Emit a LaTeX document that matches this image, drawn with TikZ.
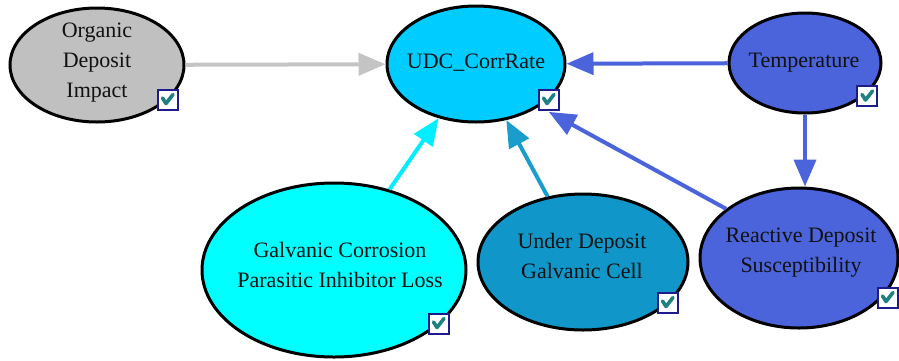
\documentclass[tikz,border=0pt]{standalone}
\usepackage{fontspec}
\setmainfont{Liberation Serif}
\usetikzlibrary{shapes.geometric,arrows.meta}
\definecolor{grayfill}{HTML}{C0C0C0}
\definecolor{udcfill}{HTML}{00CCFF}
\definecolor{royal}{HTML}{4B64DC}
\definecolor{cyanfill}{HTML}{00FFFF}
\definecolor{underfill}{HTML}{1096C8}
\definecolor{edgegray}{HTML}{C4C4C4}
\definecolor{edgecyan}{HTML}{00EEFF}
\definecolor{edgeteal}{HTML}{1A9CCC}
\definecolor{chkborder}{HTML}{1C1C8C}
\definecolor{chkmark}{HTML}{1E8080}
\definecolor{txtcol}{HTML}{111111}
\tikzset{
  bnode/.style={ellipse, draw=black, line width=3pt, inner sep=0pt},
  lbl/.style={font=\fontsize{22}{30}\selectfont, text=txtcol, align=center, inner sep=0pt},
  edge/.style={line width=4pt, -{Triangle[length=27pt,width=22pt]}},
  chkbox/.style={draw=chkborder, fill=white, line width=2pt, minimum width=20pt, minimum height=20pt, inner sep=0pt,
    path picture={\draw[chkmark, line width=3.6pt, line cap=round, line join=round]
      ([shift={(-5pt,1.5pt)}]path picture bounding box.center) --
      ([shift={(-1.5pt,-4pt)}]path picture bounding box.center) --
      ([shift={(5.5pt,5pt)}]path picture bounding box.center);}}
}
\begin{document}
\begin{tikzpicture}[x=1pt,y=-1pt]
\useasboundingbox (0,0) rectangle (899,360);
% ellipses
\node[bnode, fill=grayfill, minimum width=174pt, minimum height=114pt] (org) at (97,65) {};
\node[bnode, fill=udcfill, minimum width=178pt, minimum height=116pt] (udc) at (476,64) {};
\node[bnode, fill=royal, minimum width=152pt, minimum height=100pt] (temp) at (805,63) {};
\node[bnode, fill=cyanfill, minimum width=264pt, minimum height=174pt] (galv) at (334,270) {};
\node[bnode, fill=underfill, minimum width=210pt, minimum height=136pt] (under) at (583,262) {};
\node[bnode, fill=royal, minimum width=198pt, minimum height=140pt] (react) at (799,258) {};
% labels
\node[lbl] (orgt) at (97,63) {Organic\\Deposit\\Impact};
\node[lbl] (udct) at (476,63) {UDC\_CorrRate};
\node[lbl] (tempt) at (804,63) {Temperature};
\node[lbl] (galvt) at (340,265) {Galvanic Corrosion\\Parasitic Inhibitor Loss};
\node[lbl] (undert) at (582,256) {Under Deposit\\Galvanic Cell};
\node[lbl] (reactt) at (801,253) {Reactive Deposit\\Susceptibility};
% edges
\draw[edge, edgegray] (org) -- (udc);
\draw[edge, royal] (temp) -- (udc);
\draw[edge, royal] (temp.south) -- (temp.south |- react.north);
\draw[edge, edgecyan] (galv) -- (udc);
\draw[edge, edgeteal] (under) -- (udc);
\draw[edge, royal, shorten >=11pt] (react.146) -- (udc.-34);
% checkboxes
\node[chkbox] (orgc) at (167.5,99.5) {};
\node[chkbox] (udcc) at (548.5,99.5) {};
\node[chkbox] (tempc) at (867,96) {};
\node[chkbox] (galvc) at (438.5,323.5) {};
\node[chkbox] (underc) at (667.5,302.5) {};
\node[chkbox] (reactc) at (887.5,297.5) {};
\end{tikzpicture}
\end{document}
